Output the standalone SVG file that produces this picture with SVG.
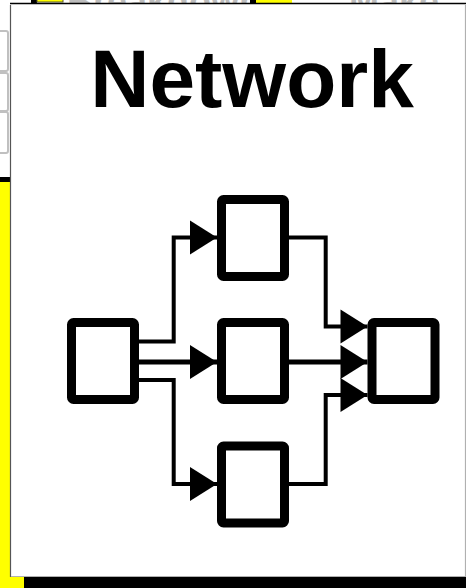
<svg xmlns="http://www.w3.org/2000/svg" width="466" height="588" viewBox="0 0 466 588">
  <style>
    .box { fill: #ffffff; stroke: #000000; stroke-width: 9; stroke-linejoin: round; }
    .wire { fill: none; stroke: #000000; stroke-width: 4; stroke-linejoin: miter; }
    .wire-main { fill: none; stroke: #000000; stroke-width: 5; }
    .title { font-family: "Liberation Sans", Arial, sans-serif; font-weight: bold; font-size: 82px; fill: #000000; }
    .faded { font-family: "Liberation Sans", Arial, sans-serif; font-weight: bold; font-size: 36px; fill: #bdbdbd; }
    .tab { fill: #ffffff; stroke: #c0c0c0; stroke-width: 2; }
  </style>
  <defs>
    <marker id="arrow" markerUnits="userSpaceOnUse" markerWidth="27" markerHeight="34" refX="27" refY="17" orient="auto" overflow="visible">
      <path d="M0,0 L27,17 L0,34 Z" fill="#000000"/>
    </marker>
  </defs>

  <!-- page behind the card -->
  <rect x="0" y="0" width="466" height="588" fill="#ffffff"/>
  <g id="backdrop">
    <text class="faded" x="67" y="14">Breakdown</text>
    <text class="faded" x="349" y="14">Make</text>
    <rect x="31" y="-6" width="6" height="9" fill="#000000"/>
    <rect x="37" y="-10" width="26" height="12" fill="#ffff00" stroke="#555533" stroke-width="1"/>
    <rect x="250" y="-6" width="6" height="9" fill="#000000"/>
    <rect x="256" y="-6" width="36" height="9" fill="#ffff00"/>
    <rect class="tab" x="-12" y="31" width="20" height="40" rx="2"/>
    <rect class="tab" x="-12" y="73" width="20" height="38" rx="2"/>
    <rect class="tab" x="-12" y="112" width="20" height="41" rx="2"/>
    <rect x="0" y="177" width="11" height="5" fill="#000000"/>
    <rect x="0" y="182" width="11" height="406" fill="#ffff00"/>
    <rect x="0" y="577" width="24" height="11" fill="#ffff00"/>
    <rect x="24" y="577" width="442" height="11" fill="#000000"/>
  </g>

  <!-- card -->
  <g id="card">
    <rect x="11" y="3.5" width="454" height="572.5" fill="#ffffff"/>
    <line x1="10" y1="3.5" x2="466" y2="3.5" stroke="#000000" stroke-width="1.5"/>
    <line x1="10.5" y1="5" x2="10.5" y2="577" stroke="#555555" stroke-width="1.2"/>
    <line x1="465.5" y1="5" x2="465.5" y2="577" stroke="#b0b0b0" stroke-width="1.2"/>
    <line x1="11" y1="576.5" x2="466" y2="576.5" stroke="#b0b0b0" stroke-width="1.2"/>
    <text class="title" x="252" y="107" text-anchor="middle">Network</text>
  </g>

  <!-- connectors -->
  <g id="connectors">
    <polyline class="wire" points="138,341.5 173.7,341.5 173.7,237.5 217,237.5" marker-end="url(#arrow)"/>
    <polyline class="wire-main" points="138,362 217,362" marker-end="url(#arrow)"/>
    <polyline class="wire" points="138,380 173.7,380 173.7,484 217,484" marker-end="url(#arrow)"/>
    <polyline class="wire" points="289,237.5 325.7,237.5 325.7,326.5 367.5,326.5" marker-end="url(#arrow)"/>
    <polyline class="wire-main" points="289,362 367.5,362" marker-end="url(#arrow)"/>
    <polyline class="wire" points="289,484 325.7,484 325.7,395 367.5,395" marker-end="url(#arrow)"/>
  </g>

  <!-- nodes -->
  <g id="node-source"><rect class="box" x="71.5" y="322.5" width="63" height="77" rx="2"/></g>
  <g id="node-upper"><rect class="box" x="221.5" y="199.5" width="63" height="77" rx="2"/></g>
  <g id="node-middle"><rect class="box" x="221.5" y="322.5" width="63" height="77" rx="2"/></g>
  <g id="node-lower"><rect class="box" x="221.5" y="446" width="63" height="77" rx="2"/></g>
  <g id="node-sink"><rect class="box" x="372" y="322.5" width="63" height="77" rx="2"/></g>
</svg>
